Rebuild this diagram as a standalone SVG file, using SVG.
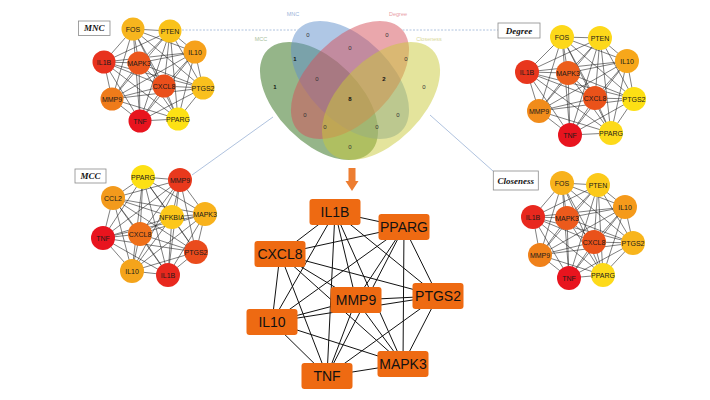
<svg xmlns="http://www.w3.org/2000/svg" width="710" height="400" viewBox="0 0 710 400">
<style>
.se{fill:none;stroke:#2a2a2a;stroke-width:0.6}
.ce{fill:none;stroke:#111;stroke-width:1}
.st{font-family:"Liberation Sans",Arial,sans-serif;font-size:7px;fill:#1a1a1a;text-anchor:middle;dominant-baseline:central}
.bt{font-family:"Liberation Sans",Arial,sans-serif;font-size:14px;fill:#111;text-anchor:middle;dominant-baseline:central}
.box{fill:#EE6A12;}
.lb{fill:#fff;stroke:#8a8a8a;stroke-width:0.8}
.lt{font-family:"Liberation Serif","Times New Roman",serif;font-size:9px;font-weight:bold;font-style:italic;fill:#111;text-anchor:middle;dominant-baseline:central}
.vn{font-family:"Liberation Sans",Arial,sans-serif;font-size:6px;fill:#333;text-anchor:middle;dominant-baseline:central}
.vb{font-family:"Liberation Sans",Arial,sans-serif;font-size:6px;font-weight:bold;fill:#111;text-anchor:middle;dominant-baseline:central}
.vl{font-family:"Liberation Sans",Arial,sans-serif;font-size:5.5px;text-anchor:middle;dominant-baseline:central}
.gl{fill:none;stroke:#9AB3D5;stroke-width:0.8}
.ve{fill-opacity:0.5}
</style>
<rect width="710" height="400" fill="#fff"/>

<g id="guides">
<line class="gl" x1="182" y1="30" x2="498" y2="30" stroke-dasharray="2,1.5"/>
<line class="gl" x1="192" y1="175" x2="273" y2="117"/>
<line class="gl" x1="430" y1="115" x2="493" y2="171"/>
</g>

<g id="venn">
<g fill="#fff">
<ellipse cx="319" cy="101" rx="72.5" ry="41.4" transform="rotate(45 319 101)"/>
<ellipse cx="350" cy="80" rx="72.5" ry="41.4" transform="rotate(45 350 80)"/>
<ellipse cx="350" cy="80" rx="72.5" ry="41.4" transform="rotate(-45 350 80)"/>
<ellipse cx="381" cy="101" rx="72.5" ry="41.4" transform="rotate(-45 381 101)"/>
</g>
<ellipse class="ve" cx="319" cy="101" rx="72.5" ry="41.4" transform="rotate(45 319 101)" fill="#2B6B14"/>
<ellipse class="ve" cx="350" cy="80" rx="72.5" ry="41.4" transform="rotate(45 350 80)" fill="#5F8FCB"/>
<ellipse class="ve" cx="350" cy="80" rx="72.5" ry="41.4" transform="rotate(-45 350 80)" fill="#D64F5A"/>
<ellipse class="ve" cx="381" cy="101" rx="72.5" ry="41.4" transform="rotate(-45 381 101)" fill="#C9C93A"/>
<text class="vl" x="293" y="14" fill="#9DB5DA">MNC</text>
<text class="vl" x="398" y="14" fill="#E8A0A6">Degree</text>
<text class="vl" x="261" y="39" fill="#A9C29E">MCC</text>
<text class="vl" x="429" y="39" fill="#D9D89A">Closeness</text>
<text class="vn" x="308" y="35">0</text>
<text class="vn" x="387" y="35">0</text>
<text class="vn" x="350" y="48">0</text>
<text class="vb" x="295" y="59">1</text>
<text class="vn" x="406" y="59">0</text>
<text class="vb" x="275" y="87">1</text>
<text class="vn" x="317" y="79">0</text>
<text class="vb" x="384" y="79">2</text>
<text class="vn" x="424" y="87">0</text>
<text class="vb" x="350" y="99">8</text>
<text class="vn" x="305" y="115">0</text>
<text class="vn" x="398" y="115">0</text>
<text class="vn" x="325" y="127">0</text>
<text class="vn" x="377" y="127">0</text>
<text class="vn" x="350" y="147">0</text>
</g>

<g id="arrow">
<polygon points="348.5,168 355.5,168 355.5,181 358.5,181 352,191 345.5,181 348.5,181" fill="#ED7D31"/>
</g>

<g id="connectors">
<path class="se" d="M133 29L170 31M133 29L195 52M133 29L104 62M133 29L139 63M133 29L164 86M133 29L203 88M133 29L112 99M133 29L140 121M133 29L178 119M170 31L195 52M170 31L104 62M170 31L139 63M170 31L164 86M170 31L203 88M170 31L112 99M170 31L140 121M170 31L178 119M195 52L104 62M195 52L139 63M195 52L164 86M195 52L203 88M195 52L112 99M195 52L140 121M195 52L178 119M104 62L139 63M104 62L164 86M104 62L203 88M104 62L112 99M104 62L140 121M104 62L178 119M139 63L164 86M139 63L203 88M139 63L112 99M139 63L140 121M139 63L178 119M164 86L203 88M164 86L112 99M164 86L140 121M164 86L178 119M203 88L112 99M203 88L140 121M203 88L178 119M112 99L140 121M112 99L178 119M140 121L178 119"/>
<path class="se" d="M562 37L600 38M562 37L627 61M562 37L527 72M562 37L568 73M562 37L595 98M562 37L634 99M562 37L539 111M562 37L570 135M562 37L611 133M600 38L627 61M600 38L527 72M600 38L568 73M600 38L595 98M600 38L634 99M600 38L539 111M600 38L570 135M600 38L611 133M627 61L527 72M627 61L568 73M627 61L595 98M627 61L634 99M627 61L539 111M627 61L570 135M627 61L611 133M527 72L568 73M527 72L595 98M527 72L634 99M527 72L539 111M527 72L570 135M527 72L611 133M568 73L595 98M568 73L634 99M568 73L539 111M568 73L570 135M568 73L611 133M595 98L634 99M595 98L539 111M595 98L570 135M595 98L611 133M634 99L539 111M634 99L570 135M634 99L611 133M539 111L570 135M539 111L611 133M570 135L611 133"/>
<path class="se" d="M562 183L598 185M562 183L625 207M562 183L533 217M562 183L567 218M562 183L594 242M562 183L633 243M562 183L540 255M562 183L569 278M562 183L603 275M598 185L625 207M598 185L533 217M598 185L567 218M598 185L594 242M598 185L633 243M598 185L540 255M598 185L569 278M598 185L603 275M625 207L533 217M625 207L567 218M625 207L594 242M625 207L633 243M625 207L540 255M625 207L569 278M625 207L603 275M533 217L567 218M533 217L594 242M533 217L633 243M533 217L540 255M533 217L569 278M533 217L603 275M567 218L594 242M567 218L633 243M567 218L540 255M567 218L569 278M567 218L603 275M594 242L633 243M594 242L540 255M594 242L569 278M594 242L603 275M633 243L540 255M633 243L569 278M633 243L603 275M540 255L569 278M540 255L603 275M569 278L603 275"/>
<path class="se" d="M143 177L180 180M143 177L113 198M143 177L172 217M143 177L205 214M143 177L103 238M143 177L140 234M143 177L196 252M143 177L132 271M143 177L168 275M180 180L113 198M180 180L172 217M180 180L205 214M180 180L103 238M180 180L140 234M180 180L196 252M180 180L132 271M180 180L168 275M113 198L172 217M113 198L205 214M113 198L103 238M113 198L140 234M113 198L196 252M113 198L132 271M113 198L168 275M172 217L205 214M172 217L103 238M172 217L140 234M172 217L196 252M172 217L132 271M172 217L168 275M205 214L103 238M205 214L140 234M205 214L196 252M205 214L132 271M205 214L168 275M103 238L140 234M103 238L196 252M103 238L132 271M103 238L168 275M140 234L196 252M140 234L132 271M140 234L168 275M196 252L132 271M196 252L168 275M132 271L168 275"/>
<path class="ce" d="M335 212L404 227M335 212L280 254M335 212L356 300M335 212L438 296M335 212L272 322M335 212L403 364M335 212L327 376M404 227L280 254M404 227L356 300M404 227L438 296M404 227L272 322M404 227L403 364M404 227L327 376M280 254L356 300M280 254L438 296M280 254L272 322M280 254L403 364M280 254L327 376M356 300L438 296M356 300L272 322M356 300L403 364M356 300L327 376M438 296L272 322M438 296L403 364M438 296L327 376M272 322L403 364M272 322L327 376M403 364L327 376"/>
</g>

<g id="label-MNC"><rect class="lb" x="78.5" y="21" width="31.5" height="14.5"/><text class="lt" x="94.2" y="28.3">MNC</text></g>
<g id="label-Degree"><rect class="lb" x="498" y="23" width="42" height="15"/><text class="lt" x="519" y="30.5">Degree</text></g>
<g id="label-MCC"><rect class="lb" x="75" y="169" width="31" height="14"/><text class="lt" x="90.5" y="176">MCC</text></g>
<g id="label-Closeness"><rect class="lb" x="493.3" y="171" width="45" height="19"/><text class="lt" x="515.8" y="180.5">Closeness</text></g>

<g id="mnc-nodes">
<g id="mnc-FOS"><circle cx="133" cy="29" r="11.5" fill="#F7B51E"/><text class="st" x="133" y="29">FOS</text></g>
<g id="mnc-PTEN"><circle cx="170" cy="31" r="11.5" fill="#F9C21A"/><text class="st" x="170" y="31">PTEN</text></g>
<g id="mnc-IL10"><circle cx="195" cy="52" r="11.5" fill="#F6A11B"/><text class="st" x="195" y="52">IL10</text></g>
<g id="mnc-IL1B"><circle cx="104" cy="62" r="11.5" fill="#E8321E"/><text class="st" x="104" y="62">IL1B</text></g>
<g id="mnc-MAPK3"><circle cx="139" cy="63" r="11.5" fill="#EB561C"/><text class="st" x="139" y="63">MAPK3</text></g>
<g id="mnc-CXCL8"><circle cx="164" cy="86" r="11.5" fill="#EA4F1B"/><text class="st" x="164" y="86">CXCL8</text></g>
<g id="mnc-PTGS2"><circle cx="203" cy="88" r="11.5" fill="#F9C01D"/><text class="st" x="203" y="88">PTGS2</text></g>
<g id="mnc-MMP9"><circle cx="112" cy="99" r="11.5" fill="#EF7B1A"/><text class="st" x="112" y="99">MMP9</text></g>
<g id="mnc-TNF"><circle cx="140" cy="121" r="11.5" fill="#E8141E"/><text class="st" x="140" y="121">TNF</text></g>
<g id="mnc-PPARG"><circle cx="178" cy="119" r="11.5" fill="#FDE114"/><text class="st" x="178" y="119">PPARG</text></g>
</g>

<g id="degree-nodes">
<g id="deg-FOS"><circle cx="562" cy="37" r="12" fill="#FDD81A"/><text class="st" x="562" y="37">FOS</text></g>
<g id="deg-PTEN"><circle cx="600" cy="38" r="12" fill="#FDD81A"/><text class="st" x="600" y="38">PTEN</text></g>
<g id="deg-IL10"><circle cx="627" cy="61" r="12" fill="#F7A71B"/><text class="st" x="627" y="61">IL10</text></g>
<g id="deg-IL1B"><circle cx="527" cy="72" r="12" fill="#E8361D"/><text class="st" x="527" y="72">IL1B</text></g>
<g id="deg-MAPK3"><circle cx="568" cy="73" r="12" fill="#EC5E1C"/><text class="st" x="568" y="73">MAPK3</text></g>
<g id="deg-CXCL8"><circle cx="595" cy="98" r="12" fill="#EA521A"/><text class="st" x="595" y="98">CXCL8</text></g>
<g id="deg-PTGS2"><circle cx="634" cy="99" r="12" fill="#FDE014"/><text class="st" x="634" y="99">PTGS2</text></g>
<g id="deg-MMP9"><circle cx="539" cy="111" r="12" fill="#F18C1B"/><text class="st" x="539" y="111">MMP9</text></g>
<g id="deg-TNF"><circle cx="570" cy="135" r="12" fill="#E8141E"/><text class="st" x="570" y="135">TNF</text></g>
<g id="deg-PPARG"><circle cx="611" cy="133" r="12" fill="#FDDA1A"/><text class="st" x="611" y="133">PPARG</text></g>
</g>

<g id="closeness-nodes">
<g id="clo-FOS"><circle cx="562" cy="183" r="12" fill="#F8B21C"/><text class="st" x="562" y="183">FOS</text></g>
<g id="clo-PTEN"><circle cx="598" cy="185" r="12" fill="#FCCA1A"/><text class="st" x="598" y="185">PTEN</text></g>
<g id="clo-IL10"><circle cx="625" cy="207" r="12" fill="#F59A1B"/><text class="st" x="625" y="207">IL10</text></g>
<g id="clo-IL1B"><circle cx="533" cy="217" r="12" fill="#E8281E"/><text class="st" x="533" y="217">IL1B</text></g>
<g id="clo-MAPK3"><circle cx="567" cy="218" r="12" fill="#EC5A1C"/><text class="st" x="567" y="218">MAPK3</text></g>
<g id="clo-CXCL8"><circle cx="594" cy="242" r="12" fill="#EA521A"/><text class="st" x="594" y="242">CXCL8</text></g>
<g id="clo-PTGS2"><circle cx="633" cy="243" r="12" fill="#F8B51C"/><text class="st" x="633" y="243">PTGS2</text></g>
<g id="clo-MMP9"><circle cx="540" cy="255" r="12" fill="#F0811A"/><text class="st" x="540" y="255">MMP9</text></g>
<g id="clo-TNF"><circle cx="569" cy="278" r="12" fill="#E8141E"/><text class="st" x="569" y="278">TNF</text></g>
<g id="clo-PPARG"><circle cx="603" cy="275" r="12" fill="#FDDA1A"/><text class="st" x="603" y="275">PPARG</text></g>
</g>

<g id="mcc-nodes">
<g id="mcc-PPARG"><circle cx="143" cy="177" r="12" fill="#FDE014"/><text class="st" x="143" y="177">PPARG</text></g>
<g id="mcc-MMP9"><circle cx="180" cy="180" r="12" fill="#E9391D"/><text class="st" x="180" y="180">MMP9</text></g>
<g id="mcc-CCL2"><circle cx="113" cy="198" r="12" fill="#F39A1C"/><text class="st" x="113" y="198">CCL2</text></g>
<g id="mcc-NFKBIA"><circle cx="172" cy="217" r="12" fill="#FCC71A"/><text class="st" x="172" y="217">NFKBIA</text></g>
<g id="mcc-MAPK3"><circle cx="205" cy="214" r="12" fill="#F8B21C"/><text class="st" x="205" y="214">MAPK3</text></g>
<g id="mcc-TNF"><circle cx="103" cy="238" r="12" fill="#E8141E"/><text class="st" x="103" y="238">TNF</text></g>
<g id="mcc-CXCL8"><circle cx="140" cy="234" r="12" fill="#EF701A"/><text class="st" x="140" y="234">CXCL8</text></g>
<g id="mcc-PTGS2"><circle cx="196" cy="252" r="12" fill="#EA4B1C"/><text class="st" x="196" y="252">PTGS2</text></g>
<g id="mcc-IL10"><circle cx="132" cy="271" r="12" fill="#F4A41B"/><text class="st" x="132" y="271">IL10</text></g>
<g id="mcc-IL1B"><circle cx="168" cy="275" r="12" fill="#E8281E"/><text class="st" x="168" y="275">IL1B</text></g>
</g>

<g id="core-nodes">
<g id="core-IL1B"><rect class="box" x="309.5" y="199" width="51" height="26" rx="3"/><text class="bt" x="335" y="212">IL1B</text></g>
<g id="core-PPARG"><rect class="box" x="378.5" y="214" width="51" height="26" rx="3"/><text class="bt" x="404" y="227">PPARG</text></g>
<g id="core-CXCL8"><rect class="box" x="254.5" y="241" width="51" height="26" rx="3"/><text class="bt" x="280" y="254">CXCL8</text></g>
<g id="core-MMP9"><rect class="box" x="330.5" y="287" width="51" height="26" rx="3"/><text class="bt" x="356" y="300">MMP9</text></g>
<g id="core-PTGS2"><rect class="box" x="412.5" y="283" width="51" height="26" rx="3"/><text class="bt" x="438" y="296">PTGS2</text></g>
<g id="core-IL10"><rect class="box" x="246.5" y="309" width="51" height="26" rx="3"/><text class="bt" x="272" y="322">IL10</text></g>
<g id="core-MAPK3"><rect class="box" x="377.5" y="351" width="51" height="26" rx="3"/><text class="bt" x="403" y="364">MAPK3</text></g>
<g id="core-TNF"><rect class="box" x="301.5" y="363" width="51" height="26" rx="3"/><text class="bt" x="327" y="376">TNF</text></g>
</g>
</svg>
